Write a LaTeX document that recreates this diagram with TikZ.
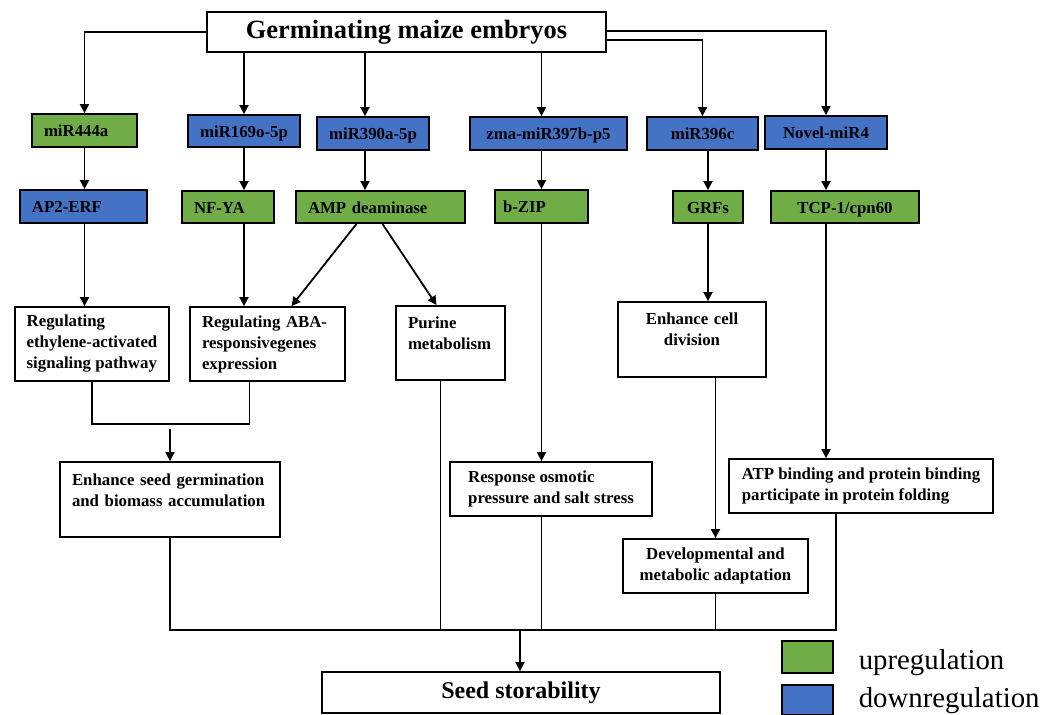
\documentclass[tikz,border=0pt]{standalone}
\usepackage{fontspec}
\setmainfont{Liberation Serif}
\usetikzlibrary{arrows.meta}
\definecolor{upgreen}{HTML}{70AD47}
\definecolor{downblue}{HTML}{4472C4}

\begin{document}
\begin{tikzpicture}[x=0.5pt, y=-0.5pt,
  every node/.style = {draw, line width=0.9pt, inner xsep=6pt, inner ysep=3pt,
    font=\fontsize{8.4}{10.5}\selectfont\bfseries},
  upbox/.style = {fill=upgreen, text height=7.3pt, text depth=0.8pt},
  downbox/.style = {fill=downblue, text height=7.3pt, text depth=0.8pt},
  effectbox/.style = {fill=white},
  leftalign/.style = {align=left},
  link/.style = {line width=0.9pt},
  arr/.style = {link, -{Triangle[length=4.5pt, width=4.5pt]}}]
  \useasboundingbox (0,0) rectangle (1056,715);

  \node[effectbox, minimum width=199.5pt, minimum height=20pt,
    font=\fontsize{13.2}{15}\selectfont\bfseries] (emb) at (406.5,32) {Germinating maize embryos};

  % miRNAs
  \node[upbox, leftalign, text width=40.5pt, minimum height=16.5pt] (m444) at (84.5,130.5) {miR444a};
  \node[downbox, minimum width=56pt, minimum height=16pt] (m169) at (244,131) {miR169o-5p};
  \node[downbox, minimum width=56pt, minimum height=16.5pt] (m390) at (373,133.5) {miR390a-5p};
  \node[downbox, minimum width=78.5pt, minimum height=16.5pt] (m397) at (548.5,133.5) {zma-miR397b-p5};
  \node[downbox, minimum width=55.5pt, minimum height=16.5pt] (m396) at (702.5,133.5) {miR396c};
  \node[downbox, minimum width=61pt, minimum height=16.5pt] (mnov) at (826,132.5) {Novel-miR4};

  % targets
  \node[downbox, leftalign, text width=51.5pt, minimum height=16.5pt] (ap2) at (83.5,206.5) {AP2-ERF};
  \node[upbox, leftalign, text width=34pt, minimum height=16pt] (nfya) at (228,207) {NF-YA};
  \node[upbox, leftalign, text width=72.5pt, minimum height=16pt] (amp) at (380.5,207) {AMP deaminase};
  \node[upbox, leftalign, text width=38.5pt, inner xsep=4pt, minimum height=16.5pt] (bzip) at (541.5,206.5) {b-ZIP};
  \node[upbox, minimum width=35pt, minimum height=16pt] (grf) at (708,207) {GRFs};
  \node[upbox, minimum width=74pt, minimum height=16pt] (tcp) at (845,207) {TCP-1/cpn60};

  % functions
  \node[effectbox, leftalign, minimum width=77pt, minimum height=37pt] (eth) at (92,344)
    {Regulating\\ethylene-activated\\signaling pathway};
  \node[effectbox, leftalign, text width=65.5pt, minimum height=37pt] (aba) at (267.5,344)
    {Regulating ABA-\\responsivegenes\\expression};
  \node[effectbox, leftalign, text width=42.5pt, text height=8.5pt, text depth=22.5pt] (pur) at (450.5,343)
    {Purine\\metabolism};
  \node[effectbox, align=center, text width=62pt, text height=8.5pt, text depth=23pt] (cell) at (692,339.5)
    {Enhance cell\\division};
  \node[effectbox, leftalign, text width=98pt, text height=9pt, text depth=22.5pt] (germ) at (170,499.5)
    {Enhance seed germination\\and biomass accumulation};
  \node[effectbox, leftalign, minimum width=101pt, minimum height=27pt] (osm) at (551,489)
    {Response osmotic\\pressure and salt stress};
  \node[effectbox, leftalign, minimum width=132pt, minimum height=27pt] (atp) at (861,486)
    {ATP binding and protein binding\\participate in protein folding};
  \node[effectbox, align=center, minimum width=92.5pt, minimum height=27pt] (dev) at (715.5,566)
    {Developmental and\\metabolic adaptation};
  \node[effectbox, minimum width=199pt, minimum height=20.5pt,
    font=\fontsize{12}{14}\selectfont\bfseries] (seed) at (521,692.5) {Seed storability};

  % legend
  \node[upbox, minimum width=25.5pt, minimum height=16pt, inner sep=0pt] (keyup) at (807.5,657) {};
  \node[downbox, minimum width=25.5pt, minimum height=15pt, inner sep=0pt] (keydown) at (807.5,700) {};
  \node[draw=none, anchor=west, font=\fontsize{14.4}{16}\selectfont] (uptext)
    at ([xshift=6pt, yshift=-3pt]keyup.east) {upregulation};
  \node[draw=none, anchor=west, font=\fontsize{14.4}{16}\selectfont] (downtext)
    at ([xshift=6pt, yshift=-0.5pt]keydown.east) {downregulation};

  \coordinate (c390) at ([xshift=-4pt]m390.south);
  \coordinate (cpur) at ([xshift=-5pt]pur.south);
  \coordinate (jn) at ([yshift=16pt]germ.north);
  \coordinate (bus) at (520,630);

  \draw[arr] (emb.west) -| (m444.north);
  \draw[arr] (emb.south -| m169.north) -- (m169.north);
  \draw[arr] (emb.south -| c390) -- (m390.north -| c390);
  \draw[arr] (emb.south -| bzip.north) -- (m397.north -| bzip.north);
  \draw[arr] ([yshift=-4pt]emb.east) -| (m396.north);
  \draw[arr] ([yshift=0.5pt]emb.east) -| (mnov.north);

  \draw[arr] (m444.south) -- (m444.south |- ap2.north);
  \draw[arr] (m169.south) -- (m169.south |- nfya.north);
  \draw[arr] (c390) -- (c390 |- amp.north);
  \draw[arr] (m397.south -| bzip.north) -- (bzip.north);
  \draw[arr] (m396.south -| grf.north) -- (grf.north);
  \draw[arr] (mnov.south) -- (mnov.south |- tcp.north);

  \draw[arr] (m444.south |- ap2.south) -- (m444.south |- eth.north);
  \draw[arr] (m169.south |- nfya.south) -- (m169.south |- aba.north);
  \draw[arr] ([xshift=-12pt]amp.south) -- ([xshift=12pt]aba.north);
  \draw[arr] ([xshift=1pt]amp.south) -- ([xshift=-7pt]pur.north);
  \draw[arr] (bzip.south) -- (bzip.south |- osm.north);
  \draw[arr] (grf.south) -- (grf.south |- cell.north);
  \draw[arr] (mnov.south |- tcp.south) -- (mnov.south |- atp.north);
  \draw[arr] (cell.south -| dev.north) -- (dev.north);

  \draw[link] (eth.south) -- ++(0,-21pt) -| ([xshift=-9pt]aba.south);
  \draw[arr] (jn) -- (germ.north);

  \draw[link] (germ.south) |- (bus) -| ([xshift=-12.5pt]atp.south);
  \draw[link] (cpur) -- (cpur |- bus);
  \draw[link] (osm.south -| bzip.south) -- (bus -| bzip.south);
  \draw[link] (dev.south) -- (dev.south |- bus);
  \draw[arr] (bus) -- (bus |- seed.north);
\end{tikzpicture}
\end{document}
